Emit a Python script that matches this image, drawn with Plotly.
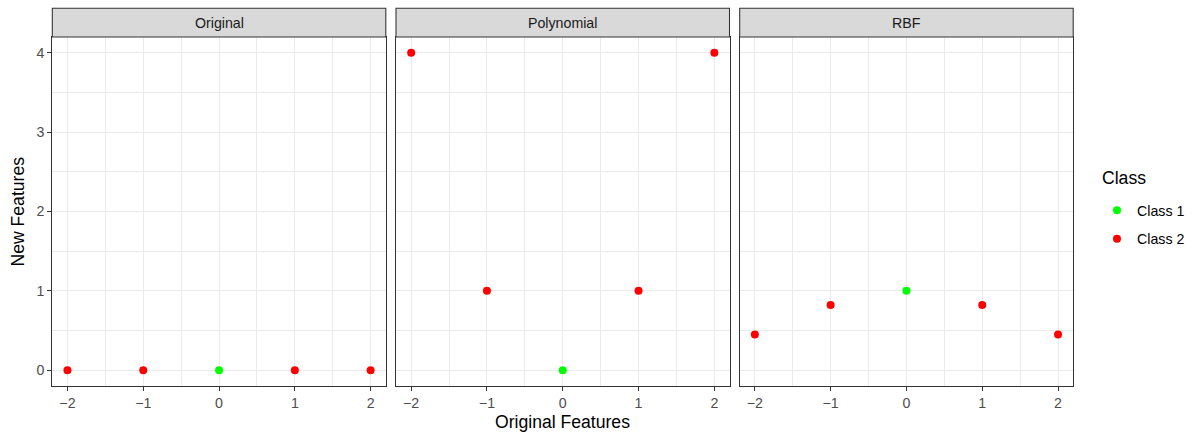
import plotly.graph_objects as go

# ---- data ----
x_vals = [-2, -1, 0, 1, 2]
classes = ["Class 2", "Class 2", "Class 1", "Class 2", "Class 2"]
original_y = [0, 0, 0, 0, 0]
polynomial_y = [4, 1, 0, 1, 4]
rbf_y = [0.45, 0.82, 1.0, 0.82, 0.45]
panel_names = ["Original", "Polynomial", "RBF"]
class_names = ["Class 1", "Class 2"]
class_colors = {"Class 1": "#00FF00", "Class 2": "#FF0000"}
x_ticks = [-2, -1, 0, 1, 2]
y_ticks = [0, 1, 2, 3, 4]

panels_y = [original_y, polynomial_y, rbf_y]

W, H = 1202, 432
FONT = "Liberation Sans, Arial, sans-serif"
SMALL = 14.2
BIG = 17.6

# panel pixel extents
px_left = [52.3, 396.0, 739.7]
px_width = 333.5
plot_top_px, plot_bot_px = 37.0, 386.0
strip_top_px = 8.3

fig = go.Figure()

for i, ys in enumerate(panels_y):
    xa = "x" if i == 0 else f"x{i+1}"
    ya = "y" if i == 0 else f"y{i+1}"
    for cname in class_names:
        xs = [x for x, c in zip(x_vals, classes) if c == cname]
        yy = [y for y, c in zip(ys, classes) if c == cname]
        fig.add_trace(go.Scatter(
            x=xs, y=yy, mode="markers", name=cname,
            marker=dict(color=class_colors[cname], size=8, line=dict(width=0)),
            xaxis=xa, yaxis=ya, legendgroup=cname,
            showlegend=(i == 0),
        ))

layout = dict(
    width=W, height=H,
    margin=dict(l=0, r=0, t=0, b=0),
    plot_bgcolor="white", paper_bgcolor="white",
    font=dict(family=FONT, color="#000000"),
    showlegend=True,
    legend=dict(
        font=dict(size=SMALL, color="#000000"),
        x=1097 / W, xanchor="left", y=1 - 194.5 / H, yanchor="top",
        tracegroupgap=7,
        bgcolor="rgba(0,0,0,0)",
    ),
)

y_dom = [1 - plot_bot_px / H, 1 - plot_top_px / H]
shapes = []
annotations = []
for i in range(3):
    xk = "xaxis" if i == 0 else f"xaxis{i+1}"
    yk = "yaxis" if i == 0 else f"yaxis{i+1}"
    d0 = px_left[i] / W
    d1 = (px_left[i] + px_width) / W
    layout[xk] = dict(
        domain=[d0, d1], range=[-2.2, 2.2], anchor="y" if i == 0 else f"y{i+1}",
        tickvals=x_ticks, ticks="outside", ticklen=4, tickwidth=1.07, tickcolor="#333333",
        tickfont=dict(size=SMALL, color="#4D4D4D", family=FONT),
        showgrid=True, gridcolor="#EBEBEB", gridwidth=1.07,
        minor=dict(dtick=1, tick0=-1.5, showgrid=True, gridcolor="#EBEBEB", gridwidth=0.53, ticks=""),
        zeroline=False, showline=True, mirror=True, linecolor="#333333", linewidth=1.07,
        fixedrange=True,
    )
    layout[yk] = dict(
        domain=y_dom, range=[-0.2, 4.2], anchor="x" if i == 0 else f"x{i+1}",
        tickvals=y_ticks, ticks="outside" if i == 0 else "", ticklen=4, tickwidth=1.07,
        tickcolor="#333333", showticklabels=(i == 0),
        tickfont=dict(size=SMALL, color="#4D4D4D", family=FONT),
        showgrid=True, gridcolor="#EBEBEB", gridwidth=1.07,
        minor=dict(dtick=1, tick0=0.5, showgrid=True, gridcolor="#EBEBEB", gridwidth=0.53, ticks=""),
        zeroline=False, showline=True, mirror=True, linecolor="#333333", linewidth=1.07,
        fixedrange=True,
    )
    shapes.append(dict(
        type="rect", xref="paper", yref="paper",
        x0=d0, x1=d1, y0=1 - plot_top_px / H, y1=1 - strip_top_px / H,
        fillcolor="#D9D9D9", line=dict(color="#333333", width=1.07), layer="above",
    ))
    annotations.append(dict(
        text=panel_names[i], xref="paper", yref="paper",
        x=(d0 + d1) / 2, y=1 - (plot_top_px + strip_top_px) / 2 / H,
        xanchor="center", yanchor="middle", showarrow=False,
        font=dict(size=SMALL, color="#1A1A1A", family=FONT),
    ))

# legend title
annotations.append(dict(
    text="Class", xref="paper", yref="paper",
    x=1099.5 / W, y=1 - 177.7 / H, xanchor="left", yanchor="middle", showarrow=False,
    font=dict(size=BIG, color="#000000", family=FONT),
))
annotations.append(dict(
    text="Original Features", xref="paper", yref="paper",
    x=(px_left[0] + px_left[2] + px_width) / 2 / W, y=1 - 421.5 / H,
    xanchor="center", yanchor="middle", showarrow=False,
    font=dict(size=BIG, color="#000000", family=FONT),
))
annotations.append(dict(
    text="New Features", xref="paper", yref="paper",
    x=18 / W, y=1 - (plot_top_px + plot_bot_px) / 2 / H,
    xanchor="center", yanchor="middle", showarrow=False, textangle=-90,
    font=dict(size=BIG, color="#000000", family=FONT),
))

layout["shapes"] = shapes
layout["annotations"] = annotations
fig.update_layout(**layout)

fig.write_html("out.html", config={"displayModeBar": False},
               post_script="document.body.style.margin='0';")
